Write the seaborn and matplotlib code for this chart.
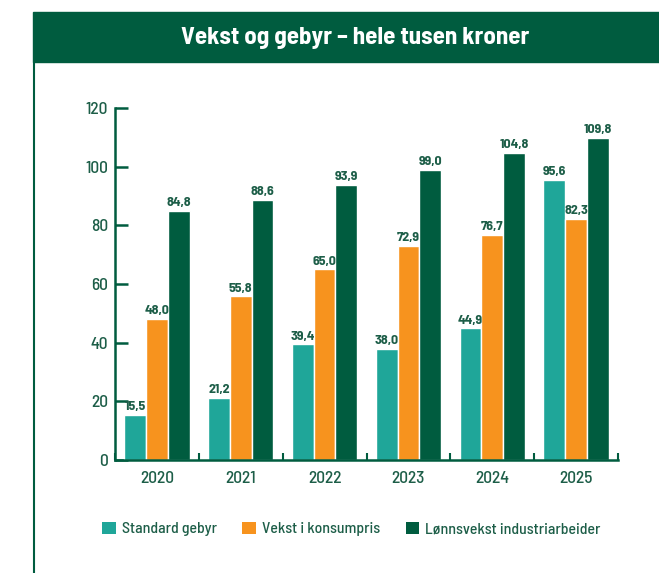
import matplotlib
matplotlib.use("Agg")
import matplotlib.pyplot as plt
import seaborn as sns
import pandas as pd
import numpy as np
from matplotlib import font_manager
from matplotlib.patches import Rectangle, Patch
from matplotlib.lines import Line2D

years = ["2020", "2021", "2022", "2023", "2024", "2025"]
series = ["Standard gebyr", "Vekst i konsumpris", "Lønnsvekst industriarbeider"]
standard_gebyr = [15.5, 21.2, 39.4, 38.0, 44.9, 95.6]
vekst_konsumpris = [48.0, 55.8, 65.0, 72.9, 76.7, 82.3]
lonnsvekst = [84.8, 88.6, 93.9, 99.0, 104.8, 109.8]
yticks = [0, 20, 40, 60, 80, 100, 120]
title = "Vekst og gebyr – hele tusen kroner"

colors = ["#1fa699", "#f7931e", "#005c3f"]
dark = "#005c3f"
text_col = "#1d5e48"

df = pd.DataFrame({
    "År": years * 3,
    "Serie": [series[0]] * 6 + [series[1]] * 6 + [series[2]] * 6,
    "Verdi": standard_gebyr + vekst_konsumpris + lonnsvekst,
})

sns.set_theme(style="white")

# pick a DIN-like narrow face if one is installed
available = {f.name for f in font_manager.fontManager.ttflist}
preferred = ["Barlow Semi Condensed", "Roboto Condensed", "Barlow Condensed",
             "Liberation Sans Narrow", "DejaVu Sans"]
family = [f for f in preferred if f in available] + ["DejaVu Sans"]
plt.rcParams["font.family"] = [family[0], "DejaVu Sans"]
plt.rcParams["font.weight"] = "medium"

W, H = 659, 573
fig = plt.figure(figsize=(W / 100, H / 100), dpi=100)

# header band with title
fig.patches.append(Rectangle((33 / W, 1 - 62 / H), 1 - 33 / W, 50 / H,
                             transform=fig.transFigure, color=dark, zorder=0))
fig.text(355 / W, 1 - 38 / H, title, color="white", fontsize=18, fontweight="bold",
         ha="center", va="center")
# thin frame line on the left
fig.lines.append(Line2D([33.5 / W, 33.5 / W], [0, 1 - 62 / H], transform=fig.transFigure,
                        color=dark, lw=1.5))

ax = fig.add_axes([115 / W, (H - 460) / H, (618 - 115) / W, (460 - 108) / H])
sns.barplot(data=df, x="År", y="Verdi", hue="Serie", palette=colors, width=0.78,
            edgecolor="white", linewidth=1, saturation=1, ax=ax, legend=False)

for cont in ax.containers:
    labels = [f"{b.get_height():.1f}".replace(".", ",") for b in cont]
    ax.bar_label(cont, labels=labels, padding=2, fontsize=10, fontweight="bold",
                 color=text_col)

ax.set_ylim(0, 120)
ax.set_xlim(-0.5, 5.5)
ax.set_yticks(yticks)
ax.set_xlabel("")
ax.set_ylabel("")
for s in ["top", "right"]:
    ax.spines[s].set_visible(False)
for s in ["left", "bottom"]:
    ax.spines[s].set_color(dark)
    ax.spines[s].set_linewidth(1.8)

ax.tick_params(axis="y", left=True, direction="in", length=9, width=1.8, color=dark,
               labelcolor=text_col, labelsize=12.5, pad=5)
ax.tick_params(axis="x", which="major", bottom=False, length=0, labelcolor=text_col,
               labelsize=12.5, pad=8)
ax.set_xticks(np.arange(-0.5, 6.0, 1.0), minor=True)
ax.tick_params(axis="x", which="minor", bottom=True, direction="in", length=5, width=1.5,
               color=dark)
for lab in ax.get_xticklabels() + ax.get_yticklabels():
    lab.set_fontweight("medium")
ax.grid(False)

handles = [Patch(facecolor=c, edgecolor="none") for c in colors]
leg = fig.legend(handles, series, loc="center left", bbox_to_anchor=(88 / W, 1 - 529 / H),
                 ncol=3, frameon=False, handlelength=0.87, handleheight=0.87,
                 handletextpad=0.38, columnspacing=1.6,
                 prop={"size": 11.4, "weight": "medium"})
for t in leg.get_texts():
    t.set_color(text_col)

fig.savefig("out.png", dpi=100, facecolor="white")
